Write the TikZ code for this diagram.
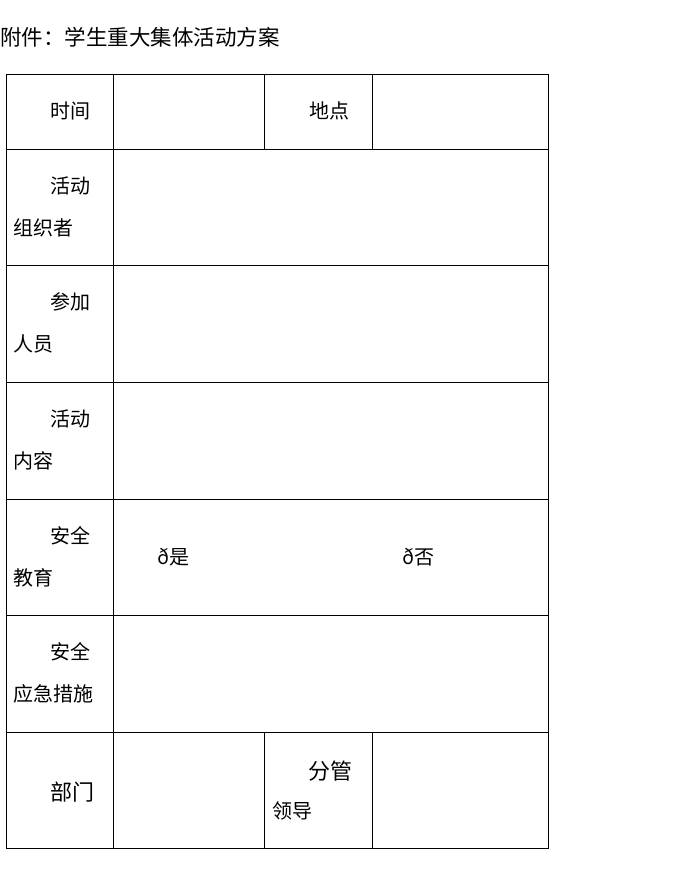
\documentclass[tikz,border=0pt]{standalone}
\usepackage{fontspec}
\setmainfont{Noto Sans CJK SC}
\begin{document}
\begin{tikzpicture}[x=1pt,y=-1pt,
  cell/.style={anchor=west,inner sep=0pt,font=\fontsize{20}{20}\selectfont},
  bigcell/.style={cell,font=\fontsize{22}{22}\selectfont},
  rule/.style={line width=0.8pt}]
\useasboundingbox (0,0) rectangle (688,870);
\node[cell,font=\fontsize{21.5}{21.5}\selectfont] (title) at (0,37) {附件：学生重大集体活动方案};
% table frame
\draw[rule] (6,74) rectangle (548,848);
\foreach \y in {149,265,382,499,615,732}
  \draw[rule] (6,\y) -- (548,\y);
\draw[rule] (113,74) -- (113,848);
\draw[rule] (264,74) -- (264,149);
\draw[rule] (372,74) -- (372,149);
\draw[rule] (264,732) -- (264,848);
\draw[rule] (372,732) -- (372,848);
% labels
\node[cell] (time) at (50,111) {时间};
\node[cell] (place) at (309,111) {地点};
\foreach \top/\one/\two/\nm in {149/活动/组织者/org, 265/参加/人员/who,
    382/活动/内容/what, 499/安全/教育/edu, 615/安全/应急措施/plan} {
  \node[cell] (\nm a) at (50,\top+37) {\one};
  \node[cell] (\nm b) at (13,\top+79) {\two};
}
\node[cell] (yes) at (157,557) {ð是};
\node[cell] (no) at (402,557) {ð否};
\node[bigcell] (dept) at (50,792) {部门};
\node[bigcell] (leada) at (308,771) {分管};
\node[cell] (leadb) at (272,811) {领导};
\end{tikzpicture}
\end{document}
